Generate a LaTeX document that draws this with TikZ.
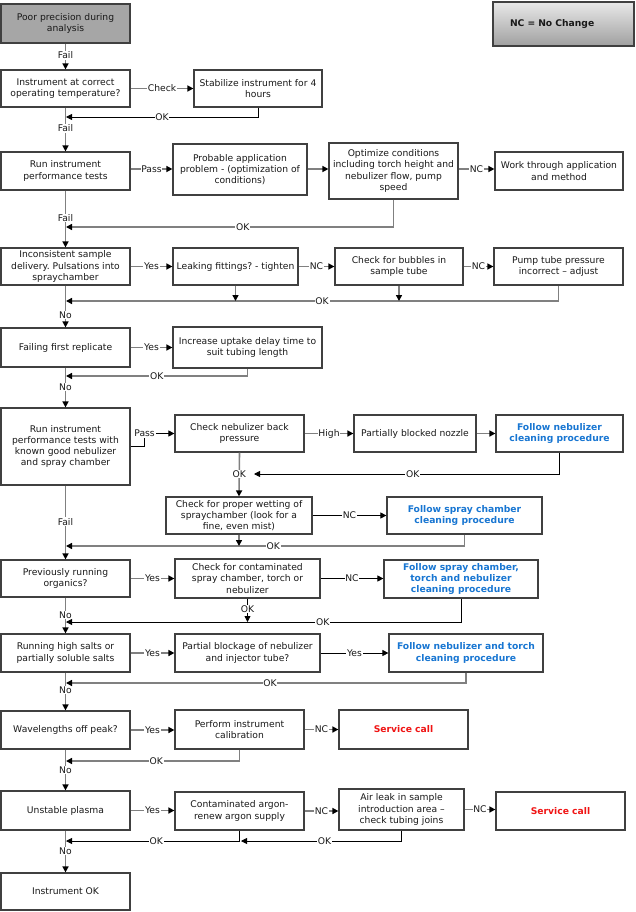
\documentclass[tikz,border=0pt]{standalone}
\usepackage{fontspec}
\setmainfont{DejaVu Sans}
\usetikzlibrary{arrows.meta}
\definecolor{bord}{RGB}{64,64,64}
\definecolor{lgray}{RGB}{128,128,128}
\definecolor{blu}{RGB}{24,118,210}
\definecolor{rd}{RGB}{240,20,20}
\definecolor{txt}{RGB}{25,25,25}
\frenchspacing
\newcommand\bx[7][]{%
  \pgfmathsetmacro\bxcx{(#3+#5)/2}\pgfmathsetmacro\bxcy{(#4+#6)/2}%
  \pgfmathsetmacro\bxw{#5-#3}\pgfmathsetmacro\bxh{#6-#4}%
  \node[box,#1,minimum width=\bxw pt,minimum height=\bxh pt] (#2) at (\bxcx,\bxcy) {#7};}
\begin{document}
\begin{tikzpicture}[x=1pt,y=-1pt,
  box/.style={draw=bord, line width=1.2pt, fill=white, align=center, inner sep=1pt,
    font=\fontsize{9.2}{11.2}\selectfont, text=txt},
  blue/.style={font=\fontsize{9.2}{11.2}\selectfont\bfseries, text=blu},
  red/.style={font=\fontsize{9.2}{11.2}\selectfont\bfseries, text=rd},
  lab/.style={fill=white, inner sep=0.8pt, font=\fontsize{9.2}{11.2}\selectfont, text=txt},
  gl/.style={draw=lgray, line width=1.6pt},
  bl/.style={draw=black, line width=0.8pt},
  arr/.style={-{Triangle[length=6pt,width=6pt,color=black]}}
]
\useasboundingbox[fill=white] (0,0) rectangle (635,912);

% boxes
\bx[fill={rgb,255:red,166;green,166;blue,166}]{start}{1}{4}{130}{43}{Poor precision during\\analysis}
\bx[top color={rgb,255:red,232;green,232;blue,232},bottom color={rgb,255:red,160;green,160;blue,160},
   align=left,text width=107pt,inner xsep=17pt,font=\fontsize{9.2}{11.2}\selectfont\bfseries]{nc}{493}{2}{634}{46}{NC = No Change}
\bx{A1}{1}{70}{130}{107}{Instrument at correct\\operating temperature?}
\bx{A2}{194}{70}{322}{107}{Stabilize instrument for 4\\hours}
\bx{B1}{1}{152}{130}{190}{Run instrument\\performance tests}
\bx{B2}{173}{144}{307}{195}{Probable application\\problem - (optimization of\\conditions)}
\bx{B3}{329}{143}{458}{199}{Optimize conditions\\including torch height and\\nebulizer flow, pump\\speed}
\bx{B4}{495}{152}{623}{190}{Work through application\\and method}
\bx{C1}{1}{248}{130}{285}{Inconsistent sample\\delivery. Pulsations into\\spraychamber}
\bx{C2}{173}{248}{298}{285}{Leaking fittings? - tighten}
\bx{C3}{335}{248}{463}{285}{Check for bubbles in\\sample tube}
\bx{C4}{494}{248}{623}{285}{Pump tube pressure\\incorrect – adjust}
\bx{D1}{1}{328}{130}{367}{Failing first replicate}
\bx{D2}{173}{327}{322}{368}{Increase uptake delay time to\\suit tubing length}
\bx{E1}{1}{408}{130}{485}{Run instrument\\performance tests with\\known good nebulizer\\and spray chamber}
\bx{E2}{175}{415}{304}{452}{Check nebulizer back\\pressure}
\bx{E3}{354}{415}{476}{452}{Partially blocked nozzle}
\bx[blue]{E4}{496}{415}{623}{452}{Follow nebulizer\\cleaning procedure}
\bx{F2}{166}{497}{312}{534}{Check for proper wetting of\\spraychamber (look for a\\fine, even mist)}
\bx[blue]{F3}{387}{497}{542}{534}{Follow spray chamber\\cleaning procedure}
\bx{G1}{1}{560}{130}{597}{Previously running\\organics?}
\bx{G2}{175}{559}{320}{598}{Check for contaminated\\spray chamber, torch or\\nebulizer}
\bx[blue]{G3}{384}{560}{538}{598}{Follow spray chamber,\\torch and nebulizer\\cleaning procedure}
\bx{H1}{1}{634}{130}{672}{Running high salts or\\partially soluble salts}
\bx{H2}{175}{634}{320}{672}{Partial blockage of nebulizer\\and injector tube?}
\bx[blue]{H3}{389}{634}{543}{672}{Follow nebulizer and torch\\cleaning procedure}
\bx{I1}{1}{711}{130}{749}{Wavelengths off peak?}
\bx{I2}{175}{710}{304}{749}{Perform instrument\\calibration}
\bx[red]{I3}{339}{710}{468}{749}{Service call}
\bx{J1}{1}{791}{130}{830}{Unstable plasma}
\bx{J2}{175}{792}{304}{830}{Contaminated argon-\\renew argon supply}
\bx{J3}{339}{789}{464}{830}{Air leak in sample\\introduction area –\\check tubing joins}
\bx[red]{J4}{496}{792}{625}{830}{Service call}
\bx{K}{1}{873}{130}{910}{Instrument OK}

% spine
\draw[gl,arr] (start) -- node[lab,pos=0.45]{Fail} (A1);
\draw[gl,arr] (A1) -- node[lab,pos=0.47]{Fail} (B1);
\draw[gl,arr] (B1) -- node[lab,pos=0.48]{Fail} (C1);
\draw[gl,arr] (C1) -- node[lab,pos=0.7]{No} (D1);
\draw[gl,arr] (D1) -- node[lab,pos=0.49]{No} (E1);
\draw[gl,arr] (E1) -- node[lab,pos=0.49]{Fail} (G1);
\draw[gl,arr] (G1) -- node[lab,pos=0.48]{No} (H1);
\draw[gl,arr] (H1) -- node[lab,pos=0.46]{No} (I1);
\draw[gl,arr] (I1) -- node[lab,pos=0.5]{No} (J1);
\draw[gl,arr] (J1) -- node[lab,pos=0.49]{No} (K);

% forward connectors
\draw[gl,arr] (A1.east) -- node[lab]{Check} (A1.east -| A2.west);
\draw[gl,arr] (B1.east |- 0,169) -- node[lab]{Pass} (B2.west |- 0,169);
\draw[gl,arr] (B2.east |- 0,169) -- (B3.west |- 0,169);
\draw[gl,arr] (B3.east |- 0,169) -- node[lab]{NC} (B4.west |- 0,169);
\draw[gl,arr] (C1.east) -- node[lab]{Yes} (C1.east -| C2.west);
\draw[gl,arr] (C2.east) -- node[lab]{NC} (C2.east -| C3.west);
\draw[gl,arr] (C3.east) -- node[lab]{NC} (C3.east -| C4.west);
\draw[gl,arr] (D1.east) -- node[lab]{Yes} (D1.east -| D2.west);
\draw[bl,arr] (E1.east) -- ++(14,0) |- node[lab,pos=0.5]{Pass} (E2.west);
\draw[gl,arr] (E2.east) -- node[lab]{High} (E2.east -| E3.west);
\draw[gl,arr] (E3.east) -- (E3.east -| E4.west);
\draw[bl,arr] (F2.east) -- node[lab]{NC} (F2.east -| F3.west);
\draw[gl,arr] (G1.east) -- node[lab]{Yes} (G1.east -| G2.west);
\draw[bl,arr] (G2.east) -- node[lab]{NC} (G2.east -| G3.west);
\draw[gl,arr] (H1.east) -- node[lab]{Yes} (H1.east -| H2.west);
\draw[bl,arr] (H2.east) -- node[lab]{Yes} (H2.east -| H3.west);
\draw[gl,arr] (I1.east) -- node[lab]{Yes} (I1.east -| I2.west);
\draw[gl,arr] (I2.east) -- node[lab]{NC} (I2.east -| I3.west);
\draw[gl,arr] (J1.east) -- node[lab]{Yes} (J1.east -| J2.west);
\draw[gl,arr] (J2.east) -- node[lab]{NC} (J2.east -| J3.west);
\draw[gl,arr] (J3.east) -- node[lab]{NC} (J3.east -| J4.west);

% return (OK) connectors
\coordinate (okA) at (66,117);
\coordinate (okB) at (66,227);
\coordinate (okC) at (66,301);
\coordinate (okD) at (66,376);
\coordinate (okE) at (254,474);
\coordinate (okF) at (66,546);
\coordinate (okG) at (66,622);
\coordinate (okH) at (66,683);
\coordinate (okI) at (66,761);
\coordinate (okJ2) at (241,841);
\coordinate (okJ) at (66,841);
\draw[bl,arr] (A2.south) |- node[lab,pos=0.75]{OK} (okA);
\draw[gl,arr] (B3.south) |- node[lab,pos=0.73]{OK} (okB);
\draw[gl,arr] (C4.south) |- node[lab,pos=0.74]{OK} (okC);
\draw[gl,arr] (C2.south) -- (C2.south |- okC);
\draw[gl,arr] (C3.south) -- (C3.south |- okC);
\draw[gl,arr] (D2.south) |- node[lab,pos=0.75]{OK} (okD);
\draw[gl,arr] (E2.south) -- node[lab,pos=0.49]{OK} (F2.north);
\draw[bl,arr] (E4.south) |- node[lab,pos=0.74]{OK} (okE);
\draw[gl,arr] (F3.south) |- node[lab,pos=0.74]{OK} (okF);
\draw[gl,arr] (F2.south) -- (F2.south |- okF);
\draw[bl,arr] (G3.south) |- node[lab,pos=0.675]{OK} (okG);
\draw[bl,arr] (G2.south) -- node[lab,pos=0.45]{OK} (G2.south |- okG);
\draw[gl,arr] (H3.south) |- node[lab,pos=0.745]{OK} (okH);
\draw[gl,arr] (I2.south) |- node[lab,pos=0.74]{OK} (okI);
\draw[bl,arr] (J3.south) |- node[lab,pos=0.74]{OK} (okJ2);
\draw[bl,arr] (J2.south) |- node[lab,pos=0.74]{OK} (okJ);
\end{tikzpicture}
\end{document}
